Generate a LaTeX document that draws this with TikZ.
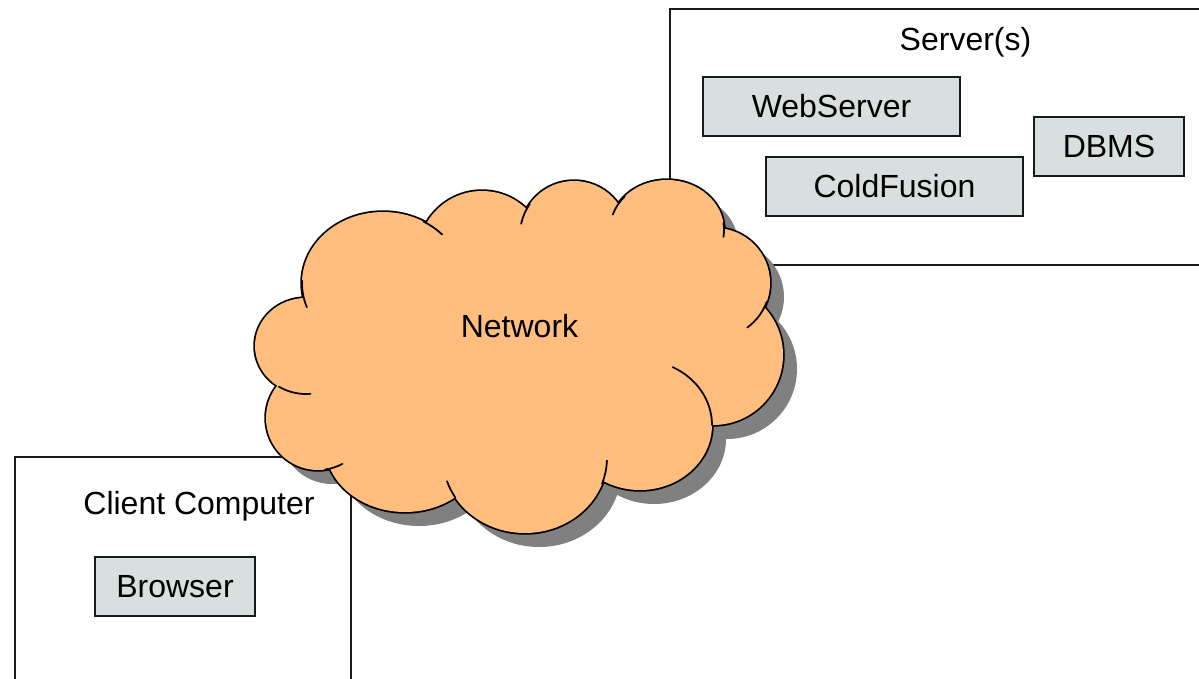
\documentclass[tikz,border=0pt]{standalone}
\usepackage{fontspec}
\setmainfont{Liberation Sans}
\definecolor{cloudfill}{RGB}{255,190,125}
\definecolor{boxfill}{RGB}{215,223,223}
\definecolor{shadowgray}{RGB}{128,128,128}
\tikzset{
  lbl/.style={font=\fontsize{32}{38}\selectfont, inner sep=0pt},
  frame/.style={draw=black!90, line width=2pt, fill=white, inner sep=0pt},
  comp/.style={draw=black!90, line width=2.5pt, fill=boxfill, inner sep=0pt,
    minimum height=59pt, font=\fontsize{32}{38}\selectfont},
  tick/.style={line width=1.75pt, line cap=round},
}
\begin{document}
\begin{tikzpicture}[x=1pt,y=-1pt]
\useasboundingbox (0,0) rectangle (1199,678);
\clip (0,0) rectangle (1199,678);
% containers
\node[frame, minimum width=540pt, minimum height=256pt] (server) at (940,137) {};
\node[frame, minimum width=336pt, minimum height=240pt] (client) at (183,577) {};
\node[lbl, anchor=base] (servertitle) at (965.5,50) {Server(s)};
\node[lbl, anchor=base] (clienttitle) at (199,514) {Client Computer};
% cloud
\def\lobes{383/283/81/71, 482/255/64/64, 574/235/54/54, 667/230/57/50, 715/283/55/55, 713/355/70/70, 640/425/72/65, 525/458/82/75, 405/445/80/67, 318/418/52/52, 306/346/51/48}
\foreach \cx/\cy/\rx/\ry in \lobes {
  \fill[shadowgray] (\cx+14,\cy+14) ellipse[x radius=\rx, y radius=\ry];
}
\fill[shadowgray] (534,369) ellipse[x radius=200, y radius=130];
\foreach \cx/\cy/\rx/\ry in \lobes {
  \draw[line width=3.5pt, black] (\cx,\cy) ellipse[x radius=\rx, y radius=\ry];
}
\foreach \cx/\cy/\rx/\ry in \lobes {
  \fill[cloudfill] (\cx,\cy) ellipse[x radius=\rx, y radius=\ry];
}
\fill[cloudfill] (520,355) ellipse[x radius=200, y radius=130];
% inner arcs of the cloud
\draw[tick] (383,283) ++(182:81 and 71) arc[start angle=182, end angle=160, x radius=81, y radius=71];
\draw[tick] (306,346) ++(122:51 and 48) arc[start angle=122, end angle=85, x radius=51, y radius=48];
\draw[tick] (318,418) ++(82:52 and 52) arc[start angle=82, end angle=62, x radius=52, y radius=52];
\draw[tick] (525,458) ++(148:82 and 75) arc[start angle=148, end angle=162, x radius=82, y radius=75];
\draw[tick] (525,458) ++(20:82 and 75) arc[start angle=20, end angle=2, x radius=82, y radius=75];
\draw[tick] (640,425) ++(0:72 and 65) arc[start angle=0, end angle=-63, x radius=72, y radius=65];
\draw[tick] (715,283) ++(20:55 and 55) arc[start angle=20, end angle=54, x radius=55, y radius=55];
\draw[tick] (667,230) ++(-8:57 and 50) arc[start angle=-8, end angle=8, x radius=57, y radius=50];
\draw[tick] (667,230) ++(222:57 and 50) arc[start angle=222, end angle=198, x radius=57, y radius=50];
\draw[tick] (574,235) ++(215:54 and 54) arc[start angle=215, end angle=192, x radius=54, y radius=54];
\draw[tick] (383,283) ++(-60:81 and 71) arc[start angle=-60, end angle=-43, x radius=81, y radius=71];
\node[lbl] (network) at (519.5,326) {Network};
% components
\node[comp, minimum width=257pt] (webserver) at (831.5,106.5) {WebServer};
\node[comp, minimum width=257pt] (coldfusion) at (894.5,186.5) {ColdFusion};
\node[comp, minimum width=150pt] (dbms) at (1109,146.5) {DBMS};
\node[comp, minimum width=160pt] (browser) at (175,586.5) {Browser};
\end{tikzpicture}
\end{document}
